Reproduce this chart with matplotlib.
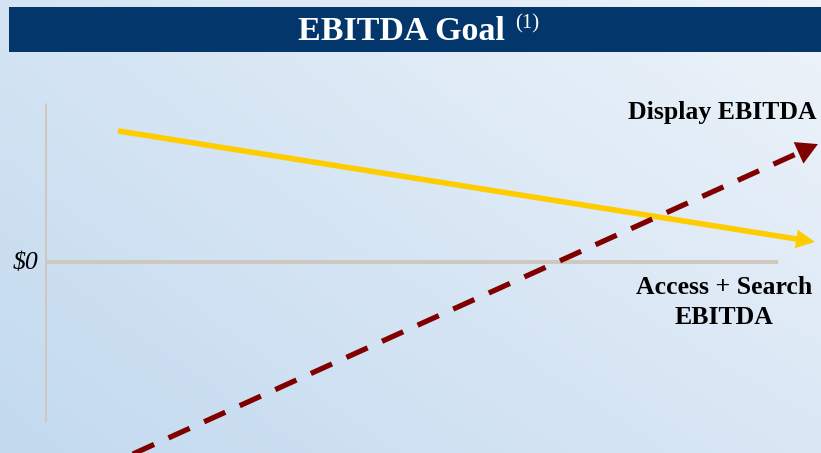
"""
EBITDA Goal chart
Two trend arrows (Access + Search vs Display EBITDA) crossing the $0 line.
"""
import matplotlib.pyplot as plt
import numpy as np
from matplotlib.patches import Rectangle

# -- Data (x = time in arbitrary units, y = EBITDA in arbitrary units, 0 = $0)
access_x = [0.96, 10.13]
access_y = [4.37, 0.67]

display_x = [1.0, 10.17]
display_y = [-6.58, 3.93]

title = "EBITDA Goal"
title_note = "(1)"
access_label = "Access + Search\nEBITDA"
display_label = "Display EBITDA"
zero_label = "$0"

plt.rcParams['font.family'] = ['Liberation Serif', 'DejaVu Serif']

fig = plt.figure(figsize=(8.21, 4.53), dpi=100)

# -- Background gradient (bilinear between corner colours)
bg = fig.add_axes([0, 0, 1, 1])
tl = np.array([0xD4, 0xE4, 0xF3]) / 255
tr = np.array([0xEE, 0xF4, 0xFA]) / 255
bl = np.array([0xC3, 0xDA, 0xEF]) / 255
br = np.array([0xDA, 0xE7, 0xF5]) / 255
u = np.linspace(0, 1, 200)[None, :, None]
v = np.linspace(0, 1, 120)[:, None, None]
grad = (1 - v) * ((1 - u) * tl + u * tr) + v * ((1 - u) * bl + u * br)
bg.imshow(grad, aspect='auto', extent=(0, 1, 0, 1), origin='upper')
bg.set_axis_off()

# -- Title bar
fig.patches.append(Rectangle((9 / 821, 1 - 52 / 453), 1 - 9 / 821, 44.5 / 453,
                             transform=fig.transFigure, facecolor='#03366A',
                             edgecolor='none', zorder=1))
t = fig.text(401 / 821, 1 - 32 / 453, title, color='white', fontsize=24.5,
             fontweight='bold', ha='center', va='center', zorder=2)
# superscript note placed just after the title text
fig.canvas.draw()
tb = t.get_window_extent().transformed(fig.transFigure.inverted())
fig.text(tb.x1 + 11 / 821, tb.y1 + 2 / 453, title_note, color='white',
         fontsize=15, ha='left', va='top', zorder=2)

# -- Main axes (pixel 45..821 across, 52..453 down)
ax = fig.add_axes([45 / 821, 0, 776 / 821, 401 / 453])
ax.patch.set_alpha(0)
ax.set_xlim(0, 776 / 76)
ax.set_ylim(-191 / 30, 210 / 30)
ax.set_axis_off()

axis_col = '#CEC8BE'
ax.plot([0, 0], [-5.33, 5.3], color=axis_col, lw=2.2, solid_capstyle='butt')
ax.plot([0, 9.64], [0, 0], color=axis_col, lw=2.8, solid_capstyle='butt')
ax.text(-0.09, -0.03, zero_label, fontsize=18.5, style='italic', ha='right',
        va='center', clip_on=False)

# -- Access + Search line (yellow, solid)
yellow = '#FFCC00'
ax_end = [access_x[0] + 0.98 * (access_x[1] - access_x[0]),
          access_y[0] + 0.98 * (access_y[1] - access_y[0])]
ax.plot([access_x[0], ax_end[0]], [access_y[0], ax_end[1]], color=yellow,
        lw=4.0, solid_capstyle='butt', zorder=3)
ax.annotate('', xy=(access_x[1], access_y[1]),
            xytext=(ax_end[0] - 0.05, ax_end[1] + 0.05 * (access_y[0] - access_y[1]) / (access_x[1] - access_x[0])),
            arrowprops=dict(arrowstyle='-|>,head_length=0.9,head_width=0.45',
                            color=yellow, lw=0, mutation_scale=15,
                            shrinkA=0, shrinkB=0), zorder=3)

# -- Display line (dark red, dashed)
red = '#800000'
dx_end = [display_x[0] + 0.98 * (display_x[1] - display_x[0]),
          display_y[0] + 0.98 * (display_y[1] - display_y[0])]
ax.plot([display_x[0], dx_end[0]], [display_y[0], dx_end[1]], color=red,
        lw=3.8, dashes=(4.4, 3.0), dash_capstyle='butt', zorder=4, clip_on=False)
ax.annotate('', xy=(display_x[1], display_y[1]),
            xytext=(dx_end[0] - 0.1, dx_end[1] - 0.1 * (display_y[1] - display_y[0]) / (display_x[1] - display_x[0])),
            arrowprops=dict(arrowstyle='-|>,head_length=0.9,head_width=0.5',
                            color=red, lw=0, mutation_scale=17,
                            shrinkA=0, shrinkB=0), zorder=4, annotation_clip=False)

# -- Labels
ax.text(8.91, 4.97, display_label, fontsize=18.5, fontweight='bold',
        ha='center', va='center')
ax.text(8.93, -1.35, access_label, fontsize=18.5, fontweight='bold',
        ha='center', va='center', linespacing=1.4)

fig.savefig("out.png", dpi=100)
